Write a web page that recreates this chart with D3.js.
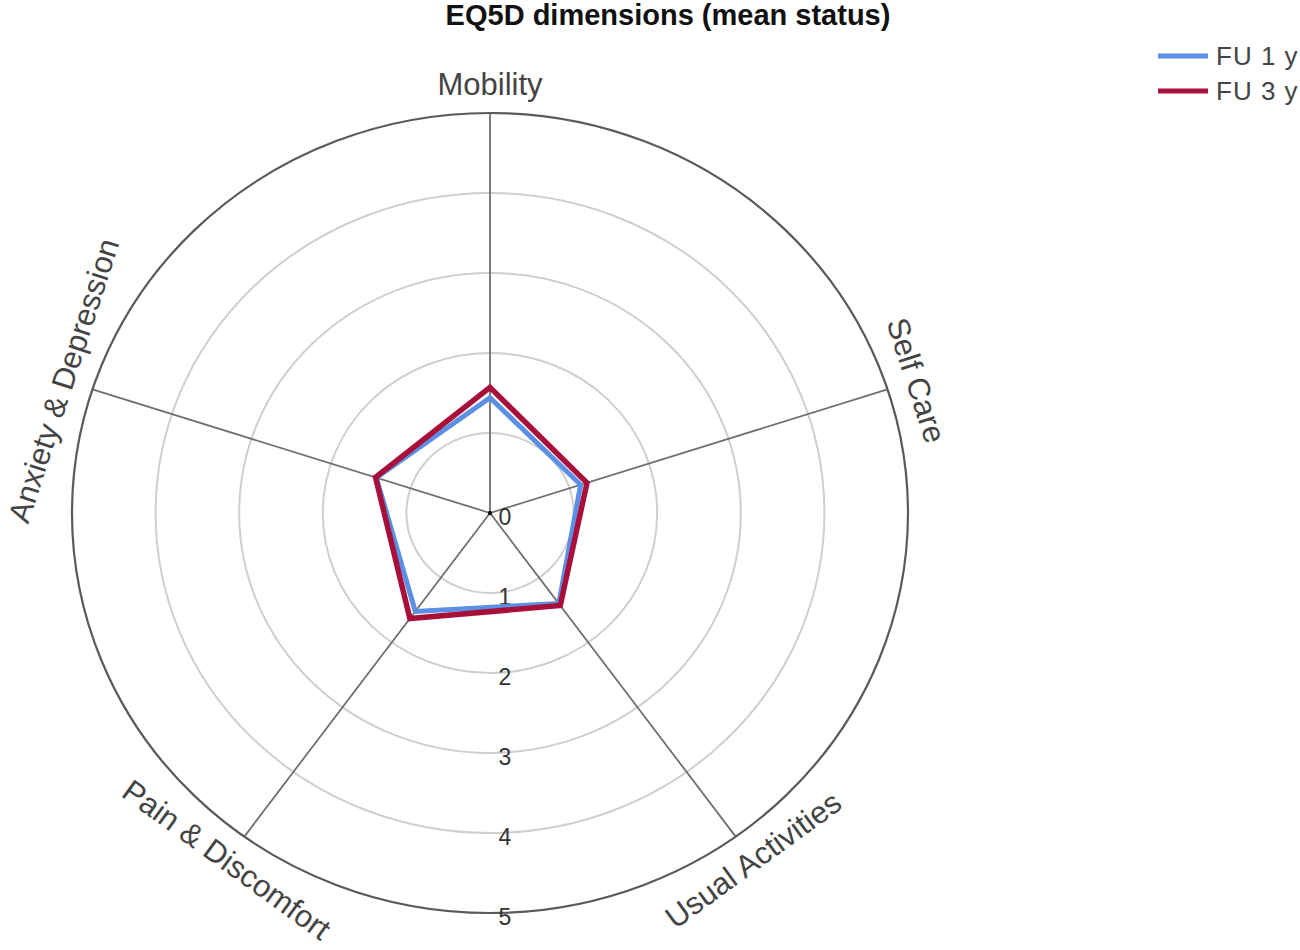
<!DOCTYPE html>
<html>
<head>
<meta charset="utf-8">
<script src="https://cdn.jsdelivr.net/npm/d3@7"></script>
<style>
  html, body { margin: 0; padding: 0; background: #fff; }
  svg { display: block; font-family: "Liberation Sans", Arial, sans-serif; }
</style>
</head>
<body>
<svg id="chart" width="1300" height="950"></svg>
<script>
// ---- data ----
const dimensions = ["Mobility", "Self Care", "Usual Activities", "Pain & Discomfort", "Anxiety & Depression"];
const fu1Values = [1.44, 1.14, 1.40, 1.52, 1.43];
const fu3Values = [1.57, 1.22, 1.43, 1.63, 1.44];
const seriesNames = ["FU 1 y", "FU 3 y"];
const seriesColors = ["#5b8fe3", "#a8103a"];
const tickValues = [0, 1, 2, 3, 4, 5];
const titleText = "EQ5D dimensions (mean status)";

// ---- layout ----
const svg = d3.select("#chart");
const cx = 490, cy = 513;
const xStretch = 1.045;
const r = d3.scaleLinear().domain([0, 5]).range([0, 400]);
const angle = d3.scaleLinear().domain([0, dimensions.length]).range([0, 2 * Math.PI]);

function px(i, v) { return cx + Math.sin(angle(i)) * r(v) * xStretch; }
function py(i, v) { return cy - Math.cos(angle(i)) * r(v); }

// title
svg.append("text")
  .attr("x", 668).attr("y", 25)
  .attr("text-anchor", "middle")
  .attr("font-weight", "bold")
  .attr("font-size", 29)
  .attr("fill", "#111")
  .text(titleText);

const g = svg.append("g");

// inner rings
g.selectAll("ellipse.ring")
  .data(tickValues.filter(t => t > 0 && t < 5))
  .join("ellipse")
  .attr("class", "ring")
  .attr("cx", cx).attr("cy", cy)
  .attr("rx", d => r(d) * xStretch).attr("ry", d => r(d))
  .attr("fill", "none")
  .attr("stroke", "#cfcfcf")
  .attr("stroke-width", 2);

// spokes
g.selectAll("line.spoke")
  .data(dimensions)
  .join("line")
  .attr("class", "spoke")
  .attr("x1", cx).attr("y1", cy)
  .attr("x2", (d, i) => px(i, 5)).attr("y2", (d, i) => py(i, 5))
  .attr("stroke", "#707070")
  .attr("stroke-width", 1.8);

// outer ring
g.append("ellipse")
  .attr("cx", cx).attr("cy", cy)
  .attr("rx", r(5) * xStretch).attr("ry", r(5))
  .attr("fill", "none")
  .attr("stroke", "#5a5a5a")
  .attr("stroke-width", 2.2);

// center dot
g.append("circle").attr("cx", cx).attr("cy", cy).attr("r", 2.2).attr("fill", "#111");

// tick labels
g.selectAll("text.tick")
  .data(tickValues)
  .join("text")
  .attr("class", "tick")
  .attr("x", cx + 15)
  .attr("y", d => cy + r(d) + 4)
  .attr("text-anchor", "middle")
  .attr("dominant-baseline", "central")
  .attr("font-size", 23)
  .attr("fill", "#333")
  .text(d => d);

// series polygons
const line = d3.line().curve(d3.curveLinearClosed);
[fu1Values, fu3Values].forEach((vals, s) => {
  g.append("path")
    .attr("d", line(vals.map((v, i) => [px(i, v), py(i, v)])))
    .attr("fill", "none")
    .attr("stroke", seriesColors[s])
    .attr("stroke-width", s === 0 ? 5 : 5.5)
    .attr("stroke-linejoin", "miter");
});

// axis labels
const labelR = 5.36;
g.selectAll("text.axislabel")
  .data(dimensions)
  .join("text")
  .attr("class", "axislabel")
  .attr("transform", (d, i) => {
    const deg = angle(i) * 180 / Math.PI;
    const rot = (deg > 90 && deg < 270) ? deg - 180 : deg;
    return `translate(${px(i, labelR)},${py(i, labelR)}) rotate(${rot})`;
  })
  .attr("text-anchor", "middle")
  .attr("dominant-baseline", "central")
  .attr("font-size", 31)
  .attr("fill", "#444")
  .text(d => d);

// legend
const legend = svg.append("g");
seriesNames.forEach((name, i) => {
  const y = 56 + i * 35;
  legend.append("line")
    .attr("x1", 1158).attr("x2", 1208)
    .attr("y1", y).attr("y2", y)
    .attr("stroke", seriesColors[i])
    .attr("stroke-width", 5);
  legend.append("text")
    .attr("x", 1216).attr("y", y)
    .attr("dominant-baseline", "central")
    .attr("font-size", 26)
    .attr("letter-spacing", 1)
    .attr("fill", "#444")
    .text(name);
});
</script>
</body>
</html>
